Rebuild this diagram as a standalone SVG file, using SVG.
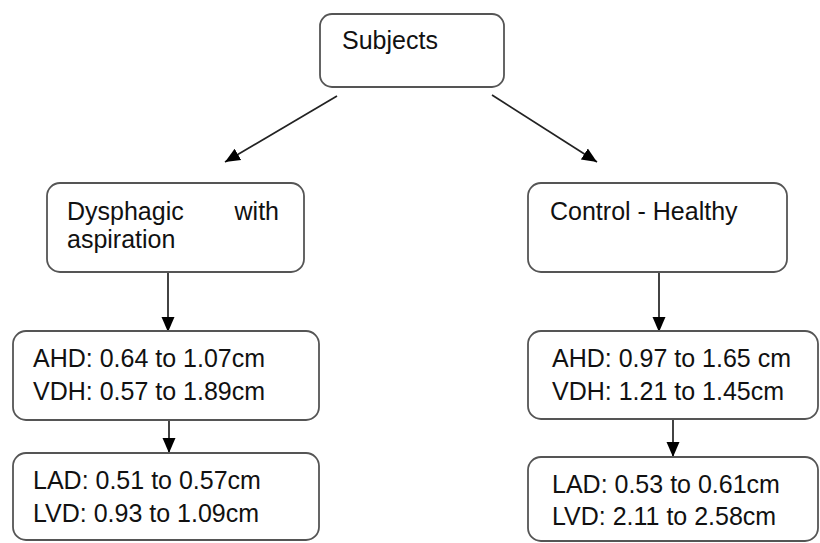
<svg xmlns="http://www.w3.org/2000/svg" width="820" height="543" viewBox="0 0 820 543">
<style>
.box{fill:#fff;stroke:#555;stroke-width:1.8}
.t{font-family:"Liberation Sans",Arial,sans-serif;font-size:25px;fill:#111}
.c{stroke:#222;stroke-width:1.7;fill:none;marker-end:url(#ah)}
</style>
<defs>
<marker id="ah" markerUnits="userSpaceOnUse" markerWidth="16" markerHeight="16" viewBox="0 0 16 16" refX="15" refY="8" orient="auto">
<path d="M0,1.5 L15,8 L0,14.5 Z" fill="#000"/>
</marker>
</defs>
<rect width="820" height="543" fill="#fff"/>
<g id="connectors">
<line class="c" x1="337" y1="96" x2="225" y2="162"/>
<line class="c" x1="492" y1="95" x2="597" y2="162"/>
<line class="c" x1="168" y1="272" x2="168" y2="332"/>
<line class="c" x1="659" y1="272" x2="659" y2="332"/>
<line class="c" x1="169" y1="420" x2="169" y2="453"/>
<line class="c" x1="673" y1="420" x2="673" y2="457"/>
</g>
<g id="subjects">
<rect class="box" x="320" y="14" width="184" height="73" rx="12"/>
<text class="t" x="342" y="49">Subjects</text>
</g>
<g id="dysphagic">
<rect class="box" x="47" y="183" width="257" height="89" rx="13"/>
<text class="t" x="67" y="220">Dysphagic</text>
<text class="t" x="279" y="220" text-anchor="end">with</text>
<text class="t" x="67" y="248">aspiration</text>
</g>
<g id="control">
<rect class="box" x="528" y="183" width="259" height="89" rx="13"/>
<text class="t" x="550" y="220">Control - Healthy</text>
</g>
<g id="dys-ahd">
<rect class="box" x="13" y="331" width="306" height="89" rx="13"/>
<text class="t" x="33" y="367">AHD: 0.64 to 1.07cm</text>
<text class="t" x="33" y="400">VDH: 0.57 to 1.89cm</text>
</g>
<g id="ctl-ahd">
<rect class="box" x="528" y="331" width="290" height="88" rx="13"/>
<text class="t" x="552" y="367">AHD: 0.97 to 1.65 cm</text>
<text class="t" x="552" y="400">VDH: 1.21 to 1.45cm</text>
</g>
<g id="dys-lad">
<rect class="box" x="13" y="453" width="306" height="87" rx="13"/>
<text class="t" x="33" y="489">LAD: 0.51 to 0.57cm</text>
<text class="t" x="33" y="522">LVD: 0.93 to 1.09cm</text>
</g>
<g id="ctl-lad">
<rect class="box" x="528" y="457" width="290" height="84" rx="13"/>
<text class="t" x="552" y="493">LAD: 0.53 to 0.61cm</text>
<text class="t" x="552" y="525">LVD: 2.11 to 2.58cm</text>
</g>
</svg>
